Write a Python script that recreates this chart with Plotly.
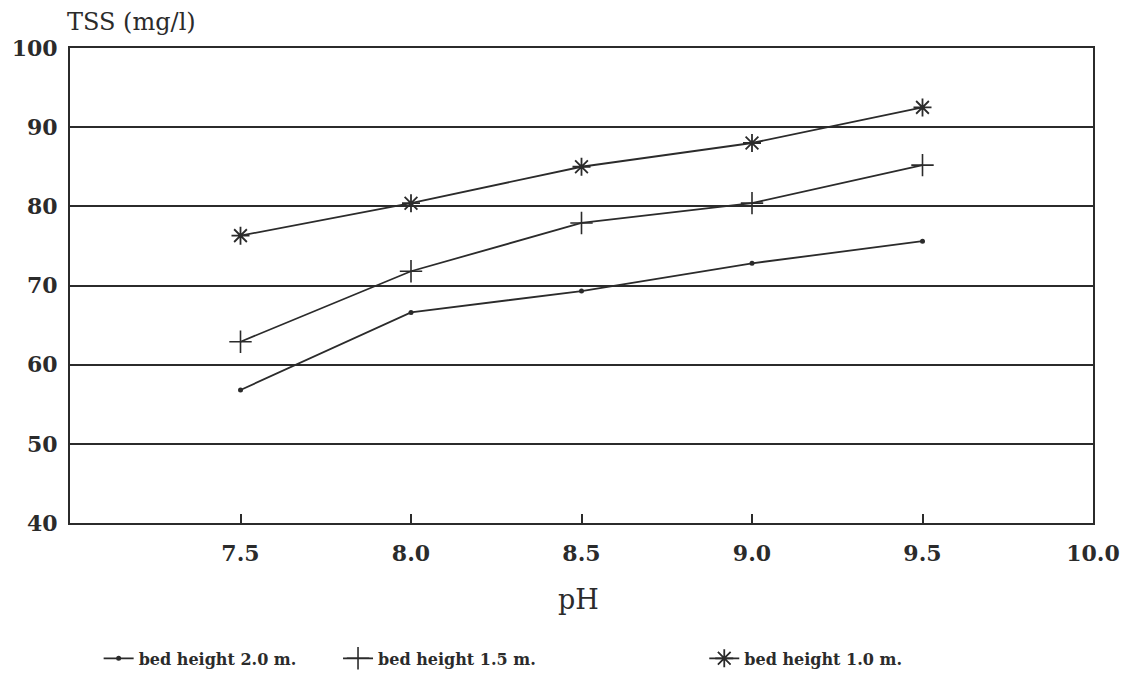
import plotly.graph_objects as go

ph = [7.5, 8.0, 8.5, 9.0, 9.5]
tss_bed_2_0 = [56.8, 66.6, 69.3, 72.8, 75.6]
tss_bed_1_5 = [62.9, 71.8, 77.9, 80.4, 85.2]
tss_bed_1_0 = [76.3, 80.4, 85.0, 88.0, 92.5]

series_names = ["bed height 2.0 m.", "bed height 1.5 m.", "bed height 1.0 m."]
x_ticks = [7.5, 8.0, 8.5, 9.0, 9.5, 10.0]
x_tick_text = ["7.5", "8.0", "8.5", "9.0", "9.5", "10.0"]
y_ticks = [40, 50, 60, 70, 80, 90, 100]

ink = "#2b2b2b"
serif = "DejaVu Serif"

fig = go.Figure()

styles = [
    (tss_bed_2_0, dict(symbol="circle", size=5, color=ink), "legend"),
    (tss_bed_1_5, dict(symbol="cross-thin-open", size=16, color=ink,
                       line=dict(width=1.6, color=ink)), "legend2"),
    (tss_bed_1_0, dict(symbol="asterisk-open", size=15, color=ink,
                       line=dict(width=1.8, color=ink)), "legend3"),
]
for name, (vals, marker, leg) in zip(series_names, styles):
    fig.add_trace(go.Scatter(
        x=ph, y=vals, name=name, mode="lines+markers",
        line=dict(color=ink, width=1.8), marker=marker, legend=leg,
    ))

legend_font = dict(family=serif, size=16, color=ink, weight="bold")
legend_common = dict(orientation="h", xanchor="left", y=-0.285, yanchor="middle",
                     font=legend_font, itemwidth=30, bgcolor="rgba(0,0,0,0)")

fig.update_layout(
    width=1136, height=688,
    margin=dict(l=68, r=43, t=48, b=162),
    paper_bgcolor="white", plot_bgcolor="white",
    font=dict(family=serif, color=ink),
    showlegend=True,
    legend=dict(x=0.028, **legend_common),
    legend2=dict(x=0.262, **legend_common),
    legend3=dict(x=0.62, **legend_common),
    xaxis=dict(
        range=[7.0, 10.0], tickvals=x_ticks, ticktext=x_tick_text,
        ticks="inside", ticklen=9, tickwidth=1.5, tickcolor=ink,
        ticklabelstandoff=10,
        showgrid=False, zeroline=False,
        showline=True, linecolor=ink, linewidth=2, mirror=True,
        tickfont=dict(family=serif, size=22, color=ink, weight="bold"),
    ),
    yaxis=dict(
        range=[40, 100], tickvals=y_ticks,
        ticks="", showgrid=True, gridcolor=ink, gridwidth=1.6,
        ticklabelstandoff=6,
        zeroline=False, showline=True, linecolor=ink, linewidth=2, mirror=True,
        tickfont=dict(family=serif, size=22, color=ink, weight="bold"),
    ),
    annotations=[
        dict(text="TSS (mg/l)", x=-0.005, xref="paper", xanchor="left",
             y=1.0, yref="paper", yanchor="middle", yshift=26, showarrow=False,
             font=dict(family=serif, size=24, color=ink)),
        dict(text="pH", x=0.497, xref="paper", xanchor="center",
             y=-0.161, yref="paper", yanchor="middle", showarrow=False,
             font=dict(family=serif, size=27, color=ink)),
    ],
)

fig.write_html("out.html")
